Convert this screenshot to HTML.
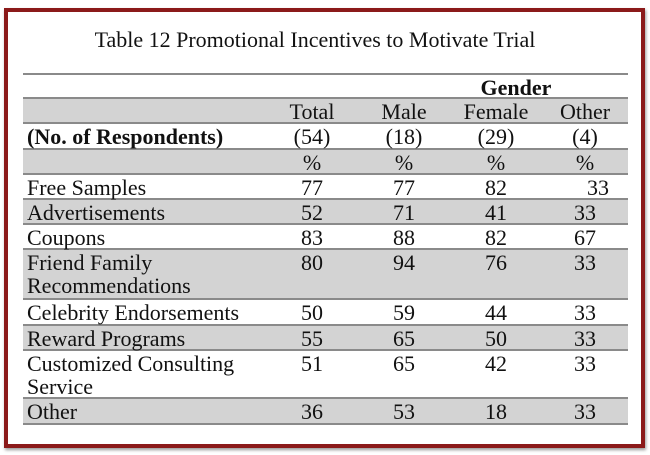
<!DOCTYPE html><html><head><style>
body{margin:0;width:650px;height:455px;background:#fff;overflow:hidden;font-family:"Liberation Serif","Times New Roman",serif;color:#111}
.frame{position:absolute;left:4px;top:8px;width:633px;height:432px;border:4px solid #8b1a1a;box-shadow:1px 2px 3px rgba(0,0,0,.4)}
.title{position:absolute;left:-10px;width:650px;top:27px;text-align:center;font-size:22px}
.r{position:absolute;left:23px;width:605px;font-size:22px;line-height:23px;border-bottom:2px solid #8a8a8a;box-sizing:border-box}
.g{background:#d3d3d3}
.c{position:absolute;width:80px;text-align:center;top:1px}
.l{position:absolute;left:4px;top:1px}
</style></head><body>
<div class="frame"></div>
<div class="title">Table 12 Promotional Incentives to Motivate Trial</div>
<div class="r" style="top:73px;height:2px;border:0;background:#8a8a8a"></div>
<div class="r" style="top:75px;height:24px"><b class="c" style="left:453px">Gender</b></div>
<div class="r g" style="top:99px;height:25px"><span class="c" style="left:249px">Total</span><span class="c" style="left:341px">Male</span><span class="c" style="left:433px">Female</span><span class="c" style="left:522px">Other</span></div>
<div class="r" style="top:124px;height:26px"><b class="l">(No. of Respondents)</b><span class="c" style="left:249px">(54)</span><span class="c" style="left:341px">(18)</span><span class="c" style="left:433px">(29)</span><span class="c" style="left:522px">(4)</span></div>
<div class="r g" style="top:150px;height:25px"><span class="c" style="left:249px">%</span><span class="c" style="left:341px">%</span><span class="c" style="left:433px">%</span><span class="c" style="left:522px">%</span></div>
<div class="r" style="top:175px;height:25px"><span class="l">Free Samples</span><span class="c" style="left:249px">77</span><span class="c" style="left:341px">77</span><span class="c" style="left:433px">82</span><span class="c" style="left:535px">33</span></div>
<div class="r g" style="top:200px;height:25px"><span class="l">Advertisements</span><span class="c" style="left:249px">52</span><span class="c" style="left:341px">71</span><span class="c" style="left:433px">41</span><span class="c" style="left:522px">33</span></div>
<div class="r" style="top:225px;height:25px"><span class="l">Coupons</span><span class="c" style="left:249px">83</span><span class="c" style="left:341px">88</span><span class="c" style="left:433px">82</span><span class="c" style="left:522px">67</span></div>
<div class="r g" style="top:250px;height:50px"><span class="l">Friend Family<br>Recommendations</span><span class="c" style="left:249px">80</span><span class="c" style="left:341px">94</span><span class="c" style="left:433px">76</span><span class="c" style="left:522px">33</span></div>
<div class="r" style="top:300px;height:26px"><span class="l">Celebrity Endorsements</span><span class="c" style="left:249px">50</span><span class="c" style="left:341px">59</span><span class="c" style="left:433px">44</span><span class="c" style="left:522px">33</span></div>
<div class="r g" style="top:326px;height:25px"><span class="l">Reward Programs</span><span class="c" style="left:249px">55</span><span class="c" style="left:341px">65</span><span class="c" style="left:433px">50</span><span class="c" style="left:522px">33</span></div>
<div class="r" style="top:351px;height:48px"><span class="l">Customized Consulting<br>Service</span><span class="c" style="left:249px">51</span><span class="c" style="left:341px">65</span><span class="c" style="left:433px">42</span><span class="c" style="left:522px">33</span></div>
<div class="r g" style="top:399px;height:26px"><span class="l">Other</span><span class="c" style="left:249px">36</span><span class="c" style="left:341px">53</span><span class="c" style="left:433px">18</span><span class="c" style="left:522px">33</span></div>
</body></html>
